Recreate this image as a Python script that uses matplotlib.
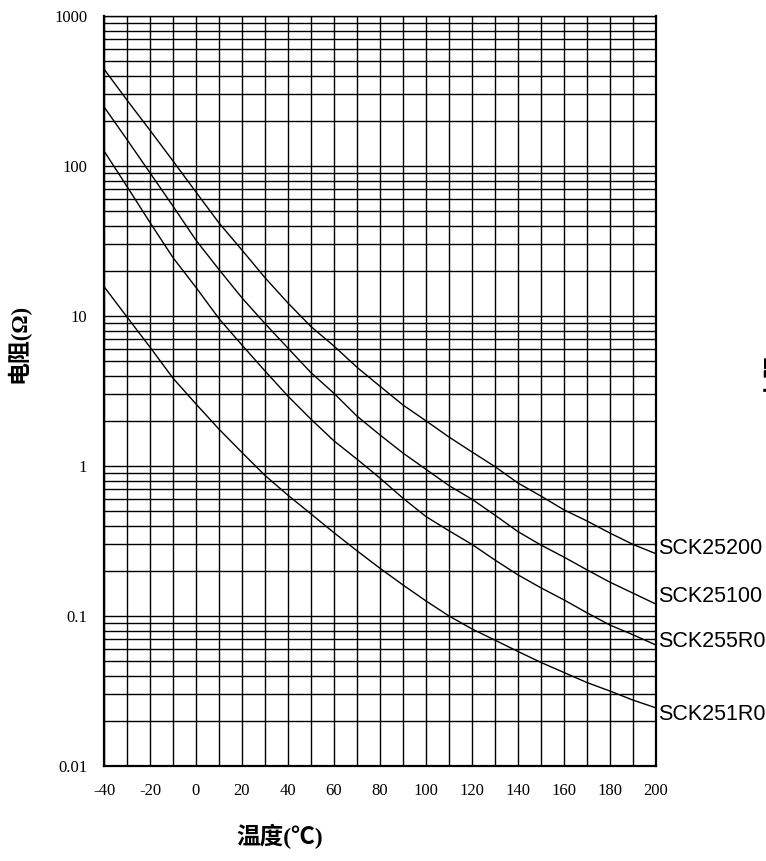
#!/usr/bin/env python3
"""
NTC thermistor resistance vs temperature curves (SCK25 series).
"""

import matplotlib
matplotlib.use('Agg')
import matplotlib.pyplot as plt
from matplotlib.ticker import LogLocator, FixedLocator, NullFormatter
from matplotlib.transforms import offset_copy

# temperature points (deg C)
temps = [-40, -30, -20, -10, 0, 10, 20, 30, 40, 50, 60, 70, 80, 90,
         100, 110, 120, 130, 140, 150, 160, 170, 180, 190, 200]

# resistance (ohm)
sck25200 = [443, 275, 173, 108, 67, 41.7, 27.5, 18.0, 12.2, 8.5, 6.3, 4.55, 3.4, 2.55,
            2.0, 1.56, 1.24, 0.99, 0.77, 0.63, 0.51, 0.43, 0.357, 0.30, 0.26]
sck25100 = [248, 150, 90, 54, 32, 20.4, 13.2, 8.9, 6.1, 4.19, 3.05, 2.15, 1.61, 1.22,
            0.95, 0.74, 0.60, 0.47, 0.365, 0.297, 0.247, 0.203, 0.168, 0.142, 0.12]
sck255r0 = [126, 73, 42, 24.5, 15.5, 9.6, 6.4, 4.3, 2.92, 2.05, 1.47, 1.11, 0.83, 0.61,
            0.46, 0.37, 0.30, 0.236, 0.188, 0.154, 0.128, 0.105, 0.087, 0.075, 0.064]
sck251r0 = [15.7, 9.85, 6.2, 3.85, 2.59, 1.76, 1.23, 0.865, 0.638, 0.479, 0.359, 0.272, 0.208, 0.161,
            0.126, 0.10, 0.082, 0.069, 0.058, 0.049, 0.042, 0.036, 0.0316, 0.0275, 0.0244]

series = [('SCK25200', sck25200), ('SCK25100', sck25100),
          ('SCK255R0', sck255r0), ('SCK251R0', sck251r0)]

# label anchor values at the right edge
label_vals = [0.28, 0.134, 0.068, 0.0222]

x_ticks = list(range(-40, 201, 20))
y_ticks = [0.01, 0.1, 1, 10, 100, 1000]
y_ticklabels = ['0.01', '0.1', '1', '10', '100', '1000']

fig = plt.figure(figsize=(7.66, 8.61), dpi=100)
ax = fig.add_axes([104 / 766, 1 - 766 / 861, 552 / 766, 750 / 861])

ax.set_yscale('log')
ax.set_xlim(-40, 200)
ax.set_ylim(0.01, 1000)

ax.xaxis.set_major_locator(FixedLocator(x_ticks))
ax.xaxis.set_minor_locator(FixedLocator(list(range(-30, 200, 20))))
ax.set_xticklabels([str(t) for t in x_ticks])
ax.yaxis.set_major_locator(FixedLocator(y_ticks))
ax.set_yticklabels(y_ticklabels)
ax.yaxis.set_minor_locator(LogLocator(base=10, subs=range(2, 10)))
ax.yaxis.set_minor_formatter(NullFormatter())

ax.grid(True, which='both', color='black', linewidth=1.0)
ax.tick_params(which='both', length=0)
ax.tick_params(axis='y', pad=12)
ax.tick_params(axis='x', pad=12)
for lab in ax.get_xticklabels() + ax.get_yticklabels():
    lab.set_fontfamily('Liberation Serif')
    lab.set_fontsize(12)

for side in ['left', 'bottom', 'right']:
    ax.spines[side].set_linewidth(1.6)
ax.spines['top'].set_linewidth(1.0)
for sp in ax.spines.values():
    sp.set_color('black')
    sp.set_zorder(5)

trans = offset_copy(ax.transData, fig=fig, x=2, y=0, units='dots')
for (name, vals), lv in zip(series, label_vals):
    ax.plot(temps, vals, color='black', linewidth=1.0, zorder=4)
    ax.text(200, lv, name, transform=trans, ha='left', va='center',
            fontsize=15.5, family='Liberation Sans', clip_on=False)

cjk = ['Liberation Serif', 'Noto Sans CJK SC', 'DejaVu Sans']
fig.text(18 / 766, 1 - 343 / 861, '电阻(Ω)', rotation=90, ha='center', va='center',
         fontsize=16.5, fontweight='bold', family=cjk)
fig.text(280 / 766, 1 - 836 / 861, '温度(℃)', ha='center', va='center',
         fontsize=17, fontweight='bold', family=cjk)
# clipped label at the far right edge, as in the original
fig.text(762 / 766, 1 - 358 / 861, '电阻(Ω)', rotation=90, ha='left', va='center',
         fontsize=17, fontweight='bold', family=cjk)

fig.savefig('out.png', dpi=100)
